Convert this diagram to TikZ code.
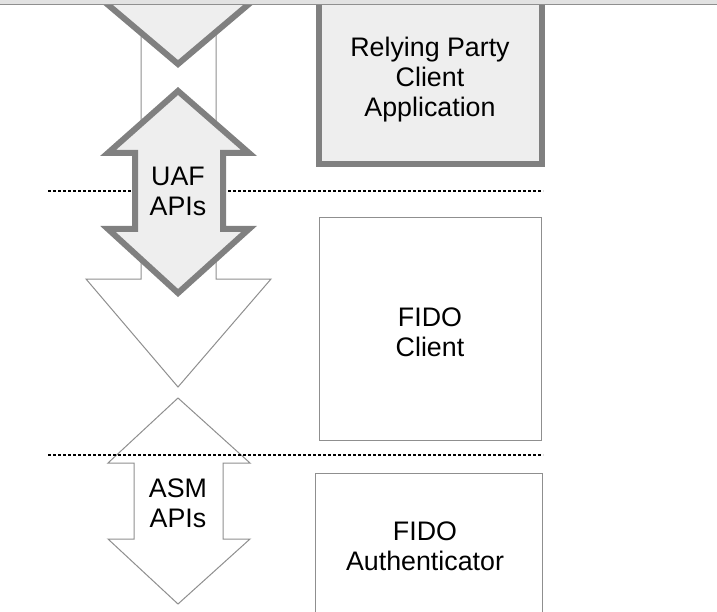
\documentclass[tikz,border=0pt]{standalone}
\usepackage{fontspec}
\setmainfont{Liberation Sans}
\definecolor{paleFill}{HTML}{EEEEEE}
\definecolor{edgeGray}{HTML}{808080}
\definecolor{thinGray}{HTML}{8F8F8F}
\definecolor{barGray}{HTML}{E2E2E2}
\tikzset{
    thick arrow/.style={draw=edgeGray,fill=paleFill,line width=6pt,line join=miter},
    thin arrow/.style={draw=thinGray,fill=white,line width=1pt,line join=miter},
    layer line/.style={draw=black,line width=1.3pt,dash pattern=on 3pt off 2pt},
    label text/.style={align=center,inner sep=0pt,font=\fontsize{26.8}{30}\selectfont}
}
\begin{document}
\begin{tikzpicture}[x=1pt,y=-1pt]
                \clip (0,0) rectangle (717,612);
                \fill[white] (0,0) rectangle (717,612);

                % big white arrow under the UAF arrow
                \draw[thin arrow](141,-20)--(141,279)--(86,279)--(178,387)--(271,279)--(216,279)--(216,-20)--cycle;
                % ASM arrow
                \draw[thin arrow](178,398)--(250,463)--(223,463)--(223,539)--(250,539)--(178,604)
                    --(108,539)--(134,539)--(134,463)--(108,463)--cycle;

                \draw[layer line](48,191)--(543,191);
                \draw[layer line](48,455)--(543,455);

                % head of the arrow coming from above
                \draw[thick arrow](140,-60)--(140,-2)--(100,-2)--(178,64)--(256,-2)--(216,-2)--(216,-60)--cycle;
                % UAF arrow
                \draw[thick arrow](178,91)--(249,153)--(223,153)--(223,229)--(249,229)--(178,293)
                    --(108,229)--(135,229)--(135,153)--(108,153)--cycle;

                \draw[thick arrow](319,-20) rectangle (542,164);
                \draw[thinGray,line width=1pt](319,218) rectangle (541,440);
                \draw[thinGray,line width=1pt](315,473) rectangle (542,640);

                \fill[barGray](0,0) rectangle (717,4);
                \draw[thinGray,line width=1pt](0,4.5)--(717,4.5);

                \node[label text] (rpapp) at (430,80) {Relying Party\\Client\\Application};
                \node[label text] (uafapi) at (178,191) {UAF\\APIs};
                \node[label text] (fidoclient) at (430,332) {FIDO\\Client};
                \node[label text] (asmapi) at (178,503) {ASM\\APIs};
                \node[label text] (fidoauth) at (425,546) {FIDO\\Authenticator};
\end{tikzpicture}
\end{document}
